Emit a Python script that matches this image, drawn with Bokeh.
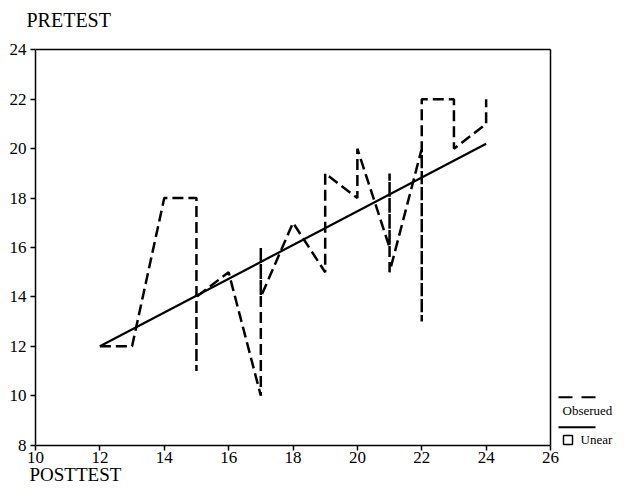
from bokeh.plotting import figure
from bokeh.models import FixedTicker, LinearAxis
from bokeh.core.properties import value
from bokeh.embed import file_html
from bokeh.resources import INLINE

# Observed means (connected in order of POSTTEST)
obs_x = [12, 13, 14, 15, 15, 15, 16, 17, 17, 17, 18, 19, 19, 20, 20, 21, 21, 21, 22, 22, 22, 23, 23, 24, 24]
obs_y = [12, 12, 18, 18, 11, 14, 15, 10, 16, 14, 17, 15, 19, 18, 20, 16, 19, 15, 20, 13, 22, 22, 20, 21, 22]

# Linear fit
lin_x = [12, 24]
lin_y = [12.0, 20.2]

x_ticks = [10, 12, 14, 16, 18, 20, 22, 24, 26]
y_ticks = [8, 10, 12, 14, 16, 18, 20, 22, 24]

legend_labels = ["Obserued", "Unear"]
x_title = "POSTTEST"
y_title = "PRETEST"

FONT = "Liberation Serif"

W, H = 615, 486
SX = 515 / 16.0                 # px per x unit
SY = 395.2 / 16.0               # px per y unit
X0 = 10 - 35 / SX
X1 = X0 + W / SX
Y1 = 24 + 49.4 / SY
Y0 = Y1 - H / SY

def dx(px):  # canvas px -> data x
    return 10 + (px - 35) / SX
def dy(py):
    return 24 - (py - 49.4) / SY

p = figure(width=W, height=H, output_backend="svg", toolbar_location=None,
           x_range=(X0, X1), y_range=(Y0, Y1), title=None,
           min_border=0, min_border_left=0, min_border_right=0,
           min_border_top=0, min_border_bottom=0)
p.frame_width = W
p.frame_height = H
p.grid.visible = False
p.outline_line_color = None

def style(ax, ticks, loc, bounds, labels=True):
    ax.ticker = FixedTicker(ticks=ticks)
    ax.fixed_location = loc
    ax.bounds = bounds
    ax.minor_tick_line_color = None
    ax.major_tick_in = 0
    ax.major_tick_out = 5 if labels else 0
    ax.axis_line_width = 1.5
    ax.axis_line_color = "black"
    ax.major_tick_line_color = "black" if labels else None
    ax.major_tick_line_width = 1.5
    ax.major_label_text_font = FONT
    ax.major_label_text_font_size = "17px"
    ax.major_label_text_color = "black"
    if not labels:
        ax.major_label_text_font_size = "0px"
        ax.major_label_text_alpha = 0

style(p.xaxis[0], x_ticks, 8, (10, 26))
style(p.yaxis[0], y_ticks, 10, (8, 24))
p.xaxis[0].major_label_standoff = 2
p.yaxis[0].major_label_standoff = 4

top = LinearAxis()
style(top, [], 24, (10, 26), labels=False)
p.add_layout(top, "above")
right = LinearAxis()
style(right, [], 26, (8, 24), labels=False)
p.add_layout(right, "right")

p.line(obs_x, obs_y, line_color="black", line_width=2.5, line_dash="11 5")
p.line(lin_x, lin_y, line_color="black", line_width=2.2)

# Axis titles
p.text(x=[dx(26)], y=[dy(19)], text=[y_title], text_font=value(FONT),
       text_font_size="20px", text_color="black", text_baseline="alphabetic")
p.text(x=[dx(29)], y=[dy(474)], text=[x_title], text_font=value(FONT),
       text_font_size="19px", text_color="black", text_baseline="alphabetic")

# Legend drawn by hand
p.line([dx(558), dx(595)], [dy(396.7)] * 2, line_color="black", line_width=2, line_dash="14 9")
p.text(x=[dx(562)], y=[dy(410)], text=[legend_labels[0]], text_font=value(FONT),
       text_font_size="13px", text_color="black", text_baseline="alphabetic")
p.line([dx(558), dx(595)], [dy(426.7)] * 2, line_color="black", line_width=2)
p.scatter(x=[dx(567.5)], y=[dy(439.5)], marker="square", size=9,
          fill_color=None, line_color="black", line_width=1.5)
p.text(x=[dx(580)], y=[dy(439)], text=[legend_labels[1]], text_font=value(FONT),
       text_font_size="13px", text_color="black", text_baseline="alphabetic")

open("out.html", "w").write(file_html(p, INLINE))
